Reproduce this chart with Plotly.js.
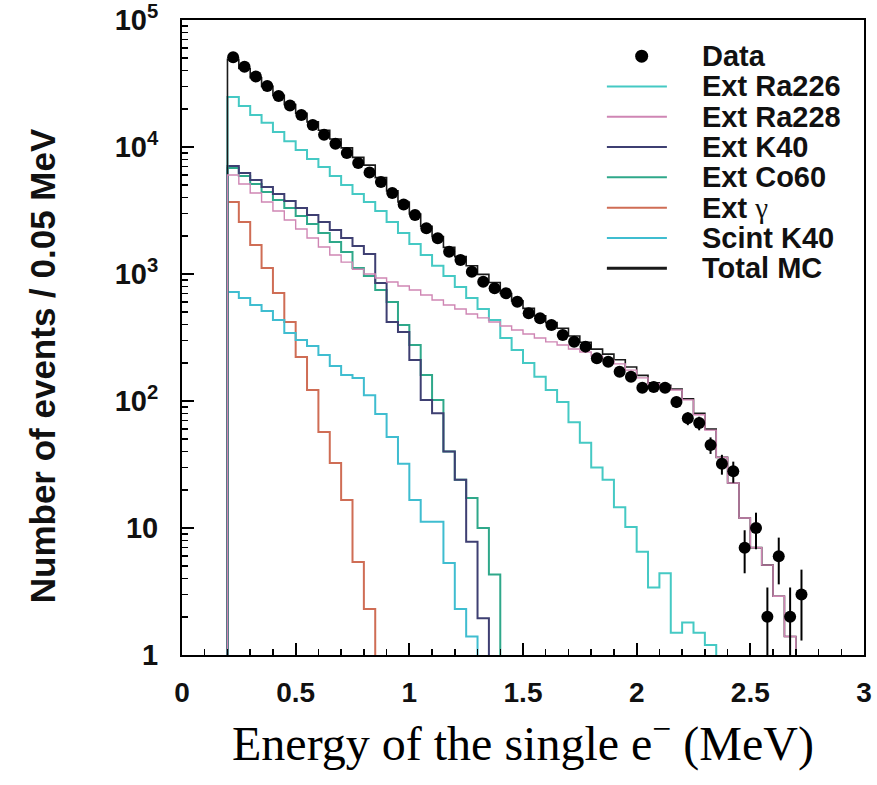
<!DOCTYPE html>
<html><head><meta charset="utf-8">
<script src="https://cdn.plot.ly/plotly-3.0.1.min.js"></script>
<style>html,body{margin:0;padding:0;background:#fff}#chart{width:877px;height:785px}</style>
</head><body><div id="chart"></div>
<script>
// Lower edges of the 0.05 MeV bins (MeV)
const binLow = [0.20,0.25,0.30,0.35,0.40,0.45,0.50,0.55,0.60,0.65,0.70,0.75,0.80,0.85,0.90,0.95,
  1.00,1.05,1.10,1.15,1.20,1.25,1.30,1.35,1.40,1.45,1.50,1.55,1.60,1.65,1.70,1.75,1.80,1.85,1.90,1.95,
  2.00,2.05,2.10,2.15,2.20,2.25,2.30,2.35,2.40,2.45,2.50,2.55,2.60,2.65,2.70];
const binWidth = 0.05;

// Data (events / 0.05 MeV) and errors
const dataCounts = [50800,42900,35900,30200,25200,21200,17900,14900,12500,10600,8970,7480,6300,5300,4340,3520,
  2915,2290,1910,1500,1290,1043,869,771,705,605,491,448,397,331,293,268,217,204,170,155,
  127,129,127,98,73,67,45,32,28,7,10,2,6,2,3];
const dataErrors = [225,207,189,174,159,146,134,122,112,103,95,86,79,73,66,59,
  54,48,44,39,36,32,29,28,27,25,22,21,20,18,17,16,15,14,13,12,
  11,11,11,10,8.5,8.2,6.7,5.7,5.3,2.6,3.2,1.4,2.4,1.4,1.7];

// Monte Carlo components
const extRa226 = [24800,21000,17900,15500,13100,11100,9470,8050,6960,5910,5020,4270,3690,3130,2570,2100,
  1720,1410,1160,964,790,647,530,434,313,252,199,155,122,98,68,47,30,24,14.6,10.2,
  6.5,3.4,4.4,1.5,1.8,1.5,1.2,0,0,0,0,0,0,0,0];
const extRa228 = [6020,5110,4340,3690,3130,2660,2260,1920,1630,1410,1240,1090,1000,930,865,805,
  748,684,624,570,530,484,451,419,390,362,337,313,292,276,257,243,226,210,196,175,
  152,136,129,122,102,78,59,36,22.6,12,7.0,5.1,2.9,1.4,0];
const extK40 = [7080,6240,5500,4840,4270,3760,3310,2920,2570,2220,1920,1660,1440,849,419,349,
  210,102,80,40,24,7.8,1.95,0,0,0,0,0,0,0,0,0,0,0,0,0,
  0,0,0,0,0,0,0,0,0,0,0,0,0,0,0];
const extCo60 = [6840,5910,5110,4420,3830,3310,2860,2480,2100,1790,1490,1115,964,748,602,397,
  276,160,102,40,24,17.2,10,4.3,0,0,0,0,0,0,0,0,0,0,0,0,
  0,0,0,0,0,0,0,0,0,0,0,0,0,0,0];
const extGamma = [3690,2570,1690,1115,708,419,222,122,57,32.5,16.6,5.4,2.3,0,0,0,
  0,0,0,0,0,0,0,0,0,0,0,0,0,0,0,0,0,0,0,0,
  0,0,0,0,0,0,0,0,0,0,0,0,0,0,0];
const scintK40 = [722,647,570,511,434,343,302,271,230,189,160,152,111,79,52,32,
  16.6,11.2,11.2,5.3,2.3,1.4,0,0,0,0,0,0,0,0,0,0,0,0,0,0,
  0,0,0,0,0,0,0,0,0,0,0,0,0,0,0];
const totalMC = [49150,41480,35070,30030,25480,21630,18430,15760,13550,11550,9850,8290,7200,5740,4510,3690,
  2970,2370,1970,1620,1370,1160,993,857,703,614,536,468,414,374,325,290,256,234,211,185,
  159,139,133,124,104,80,60,36,22.6,12,7,5.1,2.9,1.4,0];

const legendNames = ['Data','Ext Ra226','Ext Ra228','Ext K40','Ext Co60','Ext <span style="font-family:Liberation Serif;font-weight:normal">γ</span>','Scint K40','Total MC'];
const colors = {ra226:'#45c9c4', ra228:'#cf86b4', k40:'#3e3f72', co60:'#2fa88a', gamma:'#cf6d55', scint:'#3fbdd0', total:'#1a1a1a'};

const FLOOR = 1e-3;
function stepTrace(vals, color, width) {
  const x = [binLow[0]], y = [FLOOR];
  for (let i = 0; i < vals.length; i++) { x.push(binLow[i]); y.push(vals[i] > 0 ? vals[i] : FLOOR); }
  x.push(binLow[binLow.length - 1] + binWidth); y.push(FLOOR);
  return {type:'scatter', mode:'lines', x:x, y:y, line:{shape:'hv', color:color, width:width}, hoverinfo:'skip', showlegend:false};
}

const traces = [
  stepTrace(extGamma, colors.gamma, 2),
  stepTrace(scintK40, colors.scint, 2),
  stepTrace(extCo60, colors.co60, 2),
  stepTrace(extK40, colors.k40, 2),
  stepTrace(extRa226, colors.ra226, 2),
  stepTrace(totalMC, colors.total, 1.6),
  stepTrace(extRa228, colors.ra228, 1.4),
  {type:'scatter', mode:'markers', x: binLow.map(e => e + binWidth/2), y: dataCounts,
   marker:{size:12, color:'#000'},
   error_y:{type:'data', array:dataErrors, color:'#000', thickness:2, width:0},
   showlegend:false, hoverinfo:'skip'}
];

// Legend drawn in paper coordinates
const legColors = [null, colors.ra226, colors.ra228, colors.k40, colors.co60, colors.gamma, colors.scint, colors.total];
const legY0 = 0.943, legDy = 0.0477;
const shapes = [], annotations = [];
legendNames.forEach((nm, i) => {
  const yy = legY0 - i * legDy;
  if (i === 0) {
    shapes.push({type:'circle', xref:'paper', yref:'paper', xsizemode:'pixel', ysizemode:'pixel',
      xanchor:0.674, yanchor:yy, x0:-6.5, x1:6.5, y0:-6.5, y1:6.5, fillcolor:'#000', line:{width:0}});
  } else {
    shapes.push({type:'line', xref:'paper', yref:'paper', x0:0.623, x1:0.711, y0:yy, y1:yy,
      line:{color:legColors[i], width: i === 7 ? 3 : 2}});
  }
  annotations.push({xref:'paper', yref:'paper', x:0.760, y:yy, xanchor:'left', yanchor:'middle',
    text:nm, showarrow:false, font:{family:'Liberation Sans, Arial, sans-serif', size:29, color:'#111', weight:'bold'}});
});
// y-axis title
annotations.push({xref:'paper', yref:'paper', x:-0.205, y:0.455, xanchor:'center', yanchor:'middle', textangle:-90,
  text:'Number of events / 0.05 MeV', showarrow:false,
  font:{family:'Liberation Sans, Arial, sans-serif', size:35, color:'#111', weight:'bold'}});

const minorY = [];
for (let d = 0; d < 5; d++) for (let k = 2; k <= 9; k++) minorY.push(k * Math.pow(10, d));

const layout = {
  width:877, height:785,
  margin:{l:182, r:13, t:20, b:130},
  paper_bgcolor:'#fff', plot_bgcolor:'#fff',
  showlegend:false,
  xaxis:{range:[0,3], showline:true, linewidth:2, linecolor:'#000', mirror:true,
    ticks:'inside', ticklen:12, tickwidth:2, tickcolor:'#000',
    tickmode:'array', tickvals:[0,0.5,1,1.5,2,2.5,3], ticktext:['0','0.5','1','1.5','2','2.5','3'],
    tickfont:{family:'Liberation Sans, Arial, sans-serif', size:28, color:'#111', weight:'bold'},
    ticklabelstandoff:11, ticklabeloverflow:'allow',
    minor:{ticks:'inside', ticklen:6, tickwidth:1.5, tickcolor:'#000', dtick:0.1, showgrid:false},
    showgrid:false, zeroline:false,
    title:{text:'Energy of the single e<sup>−</sup> (MeV)', font:{family:'Liberation Serif, Times New Roman, serif', size:48, color:'#000'}, standoff:20}},
  yaxis:{type:'log', range:[0,5], showline:true, linewidth:2, linecolor:'#000', mirror:true,
    ticks:'inside', ticklen:12, tickwidth:2, tickcolor:'#000',
    tickmode:'array', tickvals:[1,10,100,1000,10000,100000],
    ticktext:['1','10','10<sup>2</sup>','10<sup>3</sup>','10<sup>4</sup>','10<sup>5</sup>'],
    tickfont:{family:'Liberation Sans, Arial, sans-serif', size:29, color:'#111', weight:'bold'},
    ticklabelstandoff:16, ticklabeloverflow:'allow',
    minor:{ticks:'inside', ticklen:6, tickwidth:1.5, tickcolor:'#000', tickmode:'array', tickvals:minorY, showgrid:false},
    showgrid:false, zeroline:false},
  shapes:shapes,
  annotations:annotations
};

Plotly.newPlot('chart', traces, layout, {displayModeBar:false, staticPlot:true});
</script>
</body></html>
